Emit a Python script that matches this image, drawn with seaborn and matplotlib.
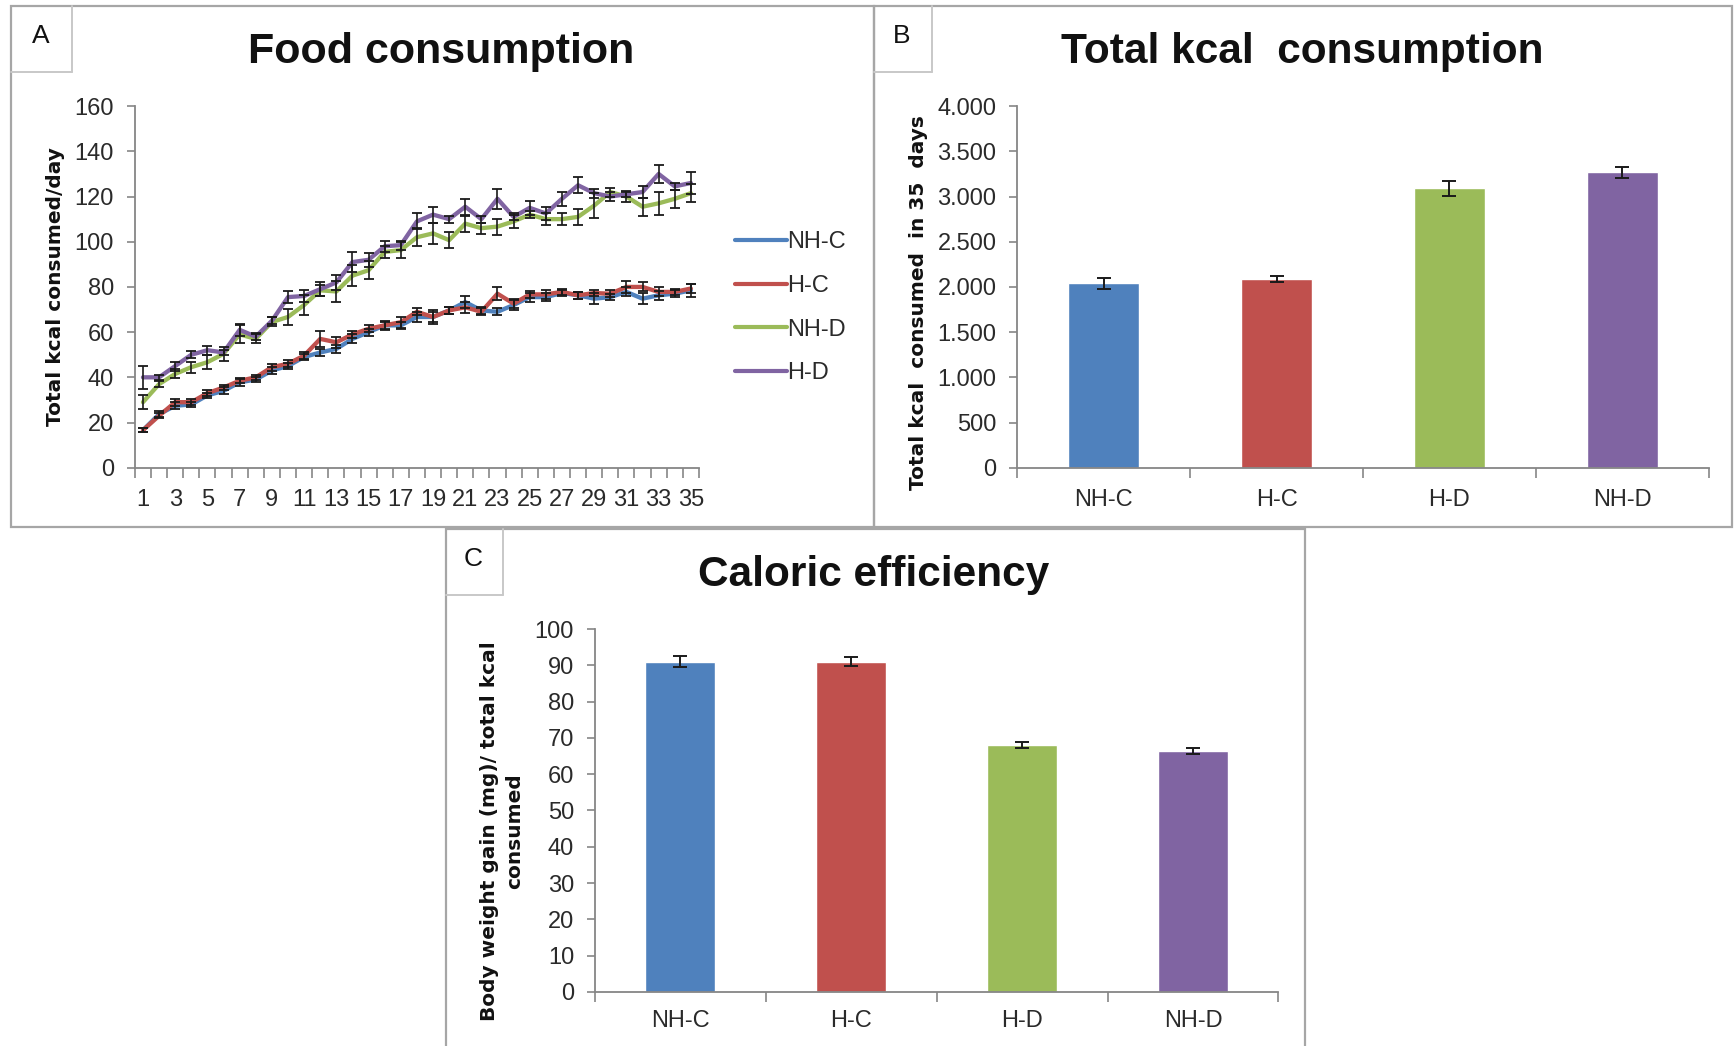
import matplotlib
matplotlib.use("Agg")
import matplotlib.pyplot as plt
from matplotlib import font_manager
from matplotlib.patches import Rectangle
from matplotlib.lines import Line2D
import numpy as np
import pandas as pd
import seaborn as sns

# ---------------- data ----------------
days = list(range(1, 36))
line_groups = ["NH-C", "H-C", "NH-D", "H-D"]

# daily intake, kcal/day (mean)
nh_c = [16.6, 23.7, 27.4, 28.0, 32.0, 34.0, 37.8, 39.0, 43.0, 45.0, 49.0, 51.0,
        52.6, 57.0, 60.0, 63.0, 63.0, 66.7, 66.7, 69.6, 73.3, 69.6, 69.0, 72.0,
        75.5, 75.5, 77.3, 76.3, 74.8, 75.5, 77.8, 74.8, 76.3, 77.0, 78.5]
h_c = [16.6, 23.0, 29.0, 29.0, 33.0, 35.5, 38.5, 40.0, 44.5, 46.0, 49.6, 57.0,
       55.5, 59.0, 61.5, 63.0, 64.4, 69.0, 66.7, 69.6, 71.0, 69.0, 77.0, 72.6,
       76.7, 76.7, 77.8, 76.3, 77.3, 77.0, 80.0, 80.0, 77.8, 77.8, 79.3]
nh_d = [29.0, 37.0, 41.5, 44.5, 46.7, 50.4, 59.0, 57.0, 64.5, 66.7, 72.0, 78.5,
        78.0, 85.0, 87.4, 95.5, 96.3, 102.0, 103.7, 100.7, 108.0, 106.0, 106.7, 109.0,
        112.0, 110.0, 110.0, 111.0, 116.0, 122.0, 120.0, 115.5, 117.0, 119.0, 121.5]
h_d = [40.0, 40.0, 45.0, 50.0, 52.0, 51.0, 61.0, 58.0, 65.0, 75.5, 76.0, 79.0,
       82.0, 91.0, 92.0, 98.0, 98.5, 109.0, 112.0, 110.0, 115.5, 110.0, 119.0, 111.0,
       115.0, 112.5, 119.0, 125.0, 121.5, 120.0, 121.0, 122.0, 130.0, 124.5, 126.0]

# SEM
nh_c_err = [1.0, 1.2, 1.5, 1.0, 1.2, 1.5, 1.5, 1.2, 1.5, 1.2, 1.5, 1.5,
            1.8, 2.0, 1.5, 1.5, 1.5, 2.0, 2.0, 1.5, 2.5, 1.5, 1.5, 2.0,
            2.0, 1.8, 1.5, 1.5, 2.5, 1.5, 2.0, 2.5, 2.0, 1.5, 3.0]
h_c_err = [1.0, 1.0, 1.5, 1.2, 1.2, 1.2, 1.2, 1.2, 1.5, 1.5, 1.5, 3.5,
           2.5, 1.5, 1.5, 2.0, 2.5, 1.5, 3.0, 1.5, 2.5, 1.5, 3.0, 2.0,
           1.5, 2.0, 1.5, 1.5, 1.5, 1.5, 2.5, 2.0, 2.0, 1.5, 2.0]
nh_d_err = [3.0, 1.5, 2.0, 2.5, 3.0, 3.0, 4.0, 2.0, 2.0, 3.5, 4.5, 2.5,
            4.5, 4.5, 4.0, 2.5, 3.5, 4.0, 4.5, 3.5, 3.5, 2.5, 3.5, 3.0,
            1.5, 2.5, 2.5, 3.5, 5.5, 2.0, 2.5, 4.0, 5.0, 4.0, 4.0]
h_d_err = [5.0, 1.0, 2.0, 1.5, 2.0, 1.0, 2.5, 1.5, 1.5, 2.5, 2.5, 3.0,
           3.5, 4.5, 3.0, 2.5, 2.0, 3.5, 3.5, 1.5, 3.5, 1.5, 4.5, 1.5,
           3.0, 3.0, 3.0, 3.5, 2.0, 2.0, 1.0, 2.5, 4.0, 1.5, 5.0]

bar_groups = ["NH-C", "H-C", "H-D", "NH-D"]
total_kcal = [2040, 2090, 3090, 3270]
total_kcal_err = [60, 35, 80, 60]
efficiency = [91.0, 91.0, 68.0, 66.5]
efficiency_err = [1.5, 1.2, 0.8, 0.8]

kcal_ticks = [0, 500, 1000, 1500, 2000, 2500, 3000, 3500, 4000]
kcal_ticklabels = ["0", "500", "1.000", "1.500", "2.000", "2.500", "3.000", "3.500", "4.000"]
eff_ticks = [0, 10, 20, 30, 40, 50, 60, 70, 80, 90, 100]
day_ticks = list(range(1, 36, 2))

# ---------------- style ----------------
BLUE, RED, GREEN, PURPLE = "#4F81BD", "#C0504D", "#9BBB59", "#8064A2"
line_palette = {"NH-C": BLUE, "H-C": RED, "NH-D": GREEN, "H-D": PURPLE}
bar_palette = [BLUE, RED, GREEN, PURPLE]
AXIS_GREY = "#868686"

sns.set_theme(style="white")
plt.rcParams["font.family"] = ["Liberation Sans", "DejaVu Sans"]

available = {f.name for f in font_manager.fontManager.ttflist}
if "Liberation Sans Narrow" in available:
    TICK_FONT, TICK_SIZE = "Liberation Sans Narrow", 19
else:
    TICK_FONT, TICK_SIZE = "Liberation Sans", 17
TICK_COLOR = "#2a2a2a"

W, H = 1568.0, 946.0


def fx(x):
    return x / W


def fy(y):
    return 1 - y / H


def add_axes(fig, left, top, right, bottom):
    return fig.add_axes([fx(left), fy(bottom), fx(right) - fx(left), (bottom - top) / H])


def style_axes(ax, xpad=14):
    for s in ("top", "right"):
        ax.spines[s].set_visible(False)
    for s in ("left", "bottom"):
        ax.spines[s].set_color(AXIS_GREY)
        ax.spines[s].set_linewidth(1.3)
    ax.tick_params(axis="y", which="major", direction="out", length=6, width=1.2,
                   color=AXIS_GREY, left=True, pad=9)
    ax.tick_params(axis="x", which="major", length=0, pad=xpad)
    ax.tick_params(axis="x", which="minor", direction="out", length=7, width=1.2,
                   color=AXIS_GREY, bottom=True)
    for lab in ax.get_xticklabels() + ax.get_yticklabels():
        lab.set_fontfamily(TICK_FONT)
        lab.set_fontsize(TICK_SIZE)
        lab.set_color(TICK_COLOR)
    ax.set_xlabel("")
    ax.set_ylabel("")
    ax.grid(False)
    ax.set_facecolor("white")


fig = plt.figure(figsize=(17.34, 10.46), dpi=100)
fig.patch.set_facecolor("white")

# panel frames and letter boxes
FRAME = "#a6a6a6"
for (l, t, r, b), (bw, bh), letter in [((10, 5, 790, 477), (55, 60), "A"),
                                       ((790, 5, 1566, 477), (53, 60), "B"),
                                       ((403, 478, 1180, 960), (52, 60), "C")]:
    fig.add_artist(Rectangle((fx(l), fy(b)), fx(r) - fx(l), (b - t) / H, fill=False,
                             edgecolor=FRAME, lw=1.6, transform=fig.transFigure, zorder=0))
    fig.add_artist(Line2D([fx(l + bw), fx(l + bw)], [fy(t), fy(t + bh)], color="#c8c8c8",
                          lw=1.4, transform=fig.transFigure))
    fig.add_artist(Line2D([fx(l), fx(l + bw)], [fy(t + bh), fy(t + bh)], color="#c8c8c8",
                          lw=1.4, transform=fig.transFigure))
    fig.text(fx(l + bw / 2 - 1), fy(t + bh / 2 - 2), letter, ha="center", va="center",
             fontsize=19, color="#111111")

# ---------------- A: daily food consumption ----------------
axA = add_axes(fig, 122, 96, 632, 423)
long_df = pd.DataFrame({
    "day": days * 4,
    "kcal": nh_c + h_c + nh_d + h_d,
    "group": sum([[g] * len(days) for g in line_groups], []),
})
sns.lineplot(data=long_df, x="day", y="kcal", hue="group", hue_order=line_groups,
             palette=line_palette, lw=3.1, ax=axA, legend=False, errorbar=None)
for vals, errs in [(nh_c, nh_c_err), (h_c, h_c_err), (nh_d, nh_d_err), (h_d, h_d_err)]:
    axA.errorbar(days, vals, yerr=errs, fmt="none", ecolor="#1a1a1a", elinewidth=1.2,
                 capsize=3.5, capthick=1.3, zorder=3)
axA.set_xlim(0.5, 35.5)
axA.set_ylim(0, 160)
axA.set_yticks(np.arange(0, 161, 20))
axA.set_xticks(day_ticks)
axA.set_xticklabels([str(d) for d in day_ticks])
axA.set_xticks(np.arange(0.5, 36, 1), minor=True)
style_axes(axA, xpad=15)
fig.text(fx(399), fy(47), "Food consumption", ha="center", va="center",
         fontsize=31, fontweight="bold", color="#111111")
fig.text(fx(50), fy(259), "Total kcal consumed/day", ha="center", va="center",
         rotation=90, fontsize=14.5, fontweight="bold", family="DejaVu Sans", color="#111111")
handles = [Line2D([], [], color=line_palette[g], lw=3) for g in line_groups]
leg = fig.legend(handles, line_groups, loc="upper left",
                 bbox_to_anchor=(fx(665), fy(209)), frameon=False,
                 borderpad=0, borderaxespad=0,
                 handlelength=2.2, handletextpad=0.0, labelspacing=0.92,
                 prop={"family": TICK_FONT, "size": TICK_SIZE})
for t in leg.get_texts():
    t.set_color(TICK_COLOR)

# ---------------- B: total kcal over 35 days ----------------
axB = add_axes(fig, 920, 96, 1545, 423)
sns.barplot(x=bar_groups, y=total_kcal, hue=bar_groups, palette=bar_palette,
            width=0.41, saturation=1, dodge=False, legend=False, errorbar=None, ax=axB)
axB.errorbar(range(4), total_kcal, yerr=total_kcal_err, fmt="none", ecolor="#1a1a1a",
             elinewidth=1.4, capsize=5, capthick=1.4, zorder=3)
axB.set_xlim(-0.5, 3.5)
axB.set_ylim(0, 4000)
axB.set_yticks(kcal_ticks)
axB.set_yticklabels(kcal_ticklabels)
axB.set_xticks(range(4))
axB.set_xticklabels(bar_groups)
axB.set_xticks(np.arange(-0.5, 4, 1), minor=True)
style_axes(axB, xpad=15)
fig.text(fx(1178), fy(47), "Total kcal  consumption", ha="center", va="center",
         fontsize=30.5, fontweight="bold", color="#111111")
fig.text(fx(831), fy(274), "Total kcal  consumed  in 35  days", ha="center", va="center",
         rotation=90, fontsize=14.5, fontweight="bold", family="DejaVu Sans", color="#111111")

# ---------------- C: caloric efficiency ----------------
axC = add_axes(fig, 538, 569, 1156, 897)
sns.barplot(x=bar_groups, y=efficiency, hue=bar_groups, palette=bar_palette,
            width=0.41, saturation=1, dodge=False, legend=False, errorbar=None, ax=axC)
axC.errorbar(range(4), efficiency, yerr=efficiency_err, fmt="none", ecolor="#1a1a1a",
             elinewidth=1.4, capsize=5, capthick=1.4, zorder=3)
axC.set_xlim(-0.5, 3.5)
axC.set_ylim(0, 100)
axC.set_yticks(eff_ticks)
axC.set_xticks(range(4))
axC.set_xticklabels(bar_groups)
axC.set_xticks(np.arange(-0.5, 4, 1), minor=True)
style_axes(axC, xpad=13)
fig.text(fx(790), fy(520), "Caloric efficiency", ha="center", va="center",
         fontsize=30.5, fontweight="bold", color="#111111")
fig.text(fx(454), fy(752), "Body weight gain (mg)/ total kcal\nconsumed", ha="center",
         va="center", rotation=90, fontsize=14.5, fontweight="bold", family="DejaVu Sans",
         color="#111111", linespacing=1.45)

fig.savefig("out.png", dpi=100, facecolor="white")
